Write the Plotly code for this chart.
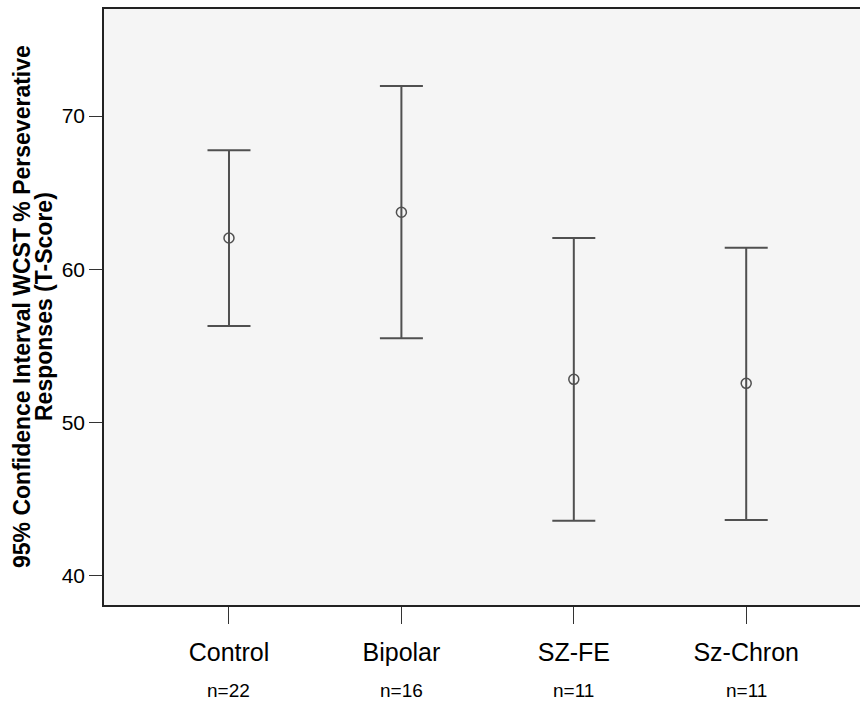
import plotly.graph_objects as go

groups = ["Control", "Bipolar", "SZ-FE", "Sz-Chron"]
n_labels = ["n=22", "n=16", "n=11", "n=11"]
means = [62.04, 63.72, 52.82, 52.56]
upper = [67.76, 71.96, 62.04, 61.41]
lower = [56.30, 55.50, 43.59, 43.65]
y_ticks = [40, 50, 60, 70]

err_plus = [u - m for u, m in zip(upper, means)]
err_minus = [m - l for m, l in zip(means, lower)]
xs = list(range(len(groups)))

FONT = "Arial, Liberation Sans, sans-serif"
DARK = "#505050"

fig = go.Figure()
fig.add_trace(go.Scatter(
    x=xs, y=means, mode="markers",
    marker=dict(symbol="circle-open", size=10, color=DARK, line=dict(width=1.5, color=DARK)),
    error_y=dict(type="data", symmetric=False, array=err_plus, arrayminus=err_minus,
                 color=DARK, thickness=2, width=21.5),
    showlegend=False, hoverinfo="skip",
))

fig.update_layout(
    width=860, height=701,
    margin=dict(l=104, r=0, t=9, b=96),
    paper_bgcolor="white", plot_bgcolor="#f5f5f5",
    font=dict(family=FONT, color="black"),
    xaxis=dict(
        range=[-0.725, 3.66], tickmode="array", tickvals=xs, ticktext=groups,
        ticks="outside", ticklen=17, tickwidth=1, tickcolor="#333",
        tickfont=dict(size=25, family=FONT, color="black"),
        ticklabelstandoff=7,
        showline=True, linecolor="#222", linewidth=1.5, mirror=True,
        showgrid=False, zeroline=False,
    ),
    yaxis=dict(
        range=[38.1, 76.98], tickmode="array", tickvals=y_ticks,
        ticks="outside", ticklen=13, tickwidth=1, tickcolor="#333",
        tickfont=dict(size=21, family=FONT, color="black"),
        showline=True, linecolor="#222", linewidth=1.5, mirror=False,
        showgrid=False, zeroline=False,
    ),
)

for x, lab in zip(xs, n_labels):
    fig.add_annotation(x=x, xref="x", y=0, yref="paper", text=lab, showarrow=False,
                       yanchor="middle", yshift=-85, font=dict(size=19, family=FONT, color="black"))

fig.add_annotation(x=0, xref="paper", y=0.5, yref="paper", xanchor="center", yanchor="middle",
                   xshift=-82, textangle=-90, showarrow=False,
                   text="<b>95% Confidence Interval WCST % Perseverative</b>",
                   font=dict(size=23, family=FONT, color="black"))
fig.add_annotation(x=0, xref="paper", y=0.5, yref="paper", xanchor="center", yanchor="middle",
                   xshift=-60, textangle=-90, showarrow=False,
                   text="<b>Responses (T-Score)</b>",
                   font=dict(size=23, family=FONT, color="black"))

fig.write_html(
    "out.html",
    config={"displayModeBar": False},
    post_script="document.body.style.margin='0';document.body.style.overflow='hidden';",
)
